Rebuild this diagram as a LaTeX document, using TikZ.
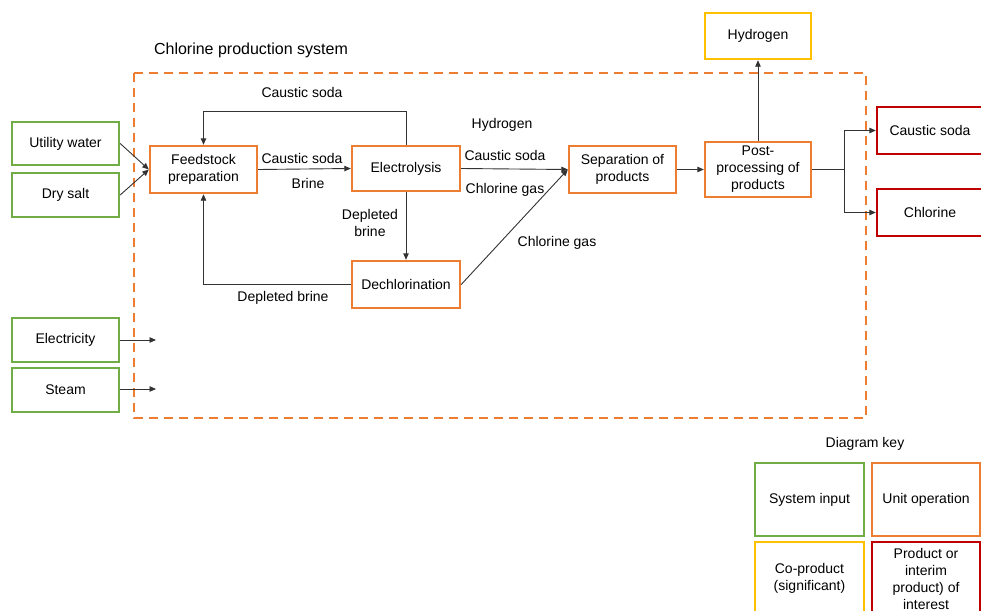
\documentclass[tikz,border=0pt]{standalone}
\usepackage{fontspec}
\setmainfont{Liberation Sans}
\usetikzlibrary{arrows.meta}
\definecolor{cgreen}{HTML}{70AD47}
\definecolor{corange}{HTML}{ED7D31}
\definecolor{cyellow}{HTML}{FFC000}
\definecolor{cred}{HTML}{C00000}
\definecolor{cline}{HTML}{333333}
\begin{document}
\begin{tikzpicture}[x=1pt,y=-1pt,
  every node/.style={font=\fontsize{14}{17}\selectfont, text=black},
  box/.style={draw, line width=2.4pt, inner sep=0pt, align=center},
  inbox/.style={box, draw=cgreen},
  opbox/.style={box, draw=corange},
  cobox/.style={box, draw=cyellow},
  prbox/.style={box, draw=cred},
  arr/.style={draw=cline, line width=0.9pt, -{Triangle[length=6.5pt,width=5.5pt]}},
  ln/.style={draw=cline, line width=0.9pt},
  dashbox/.style={draw=corange, line width=2.4pt, dash pattern=on 9pt off 6pt},
  lbl/.style={inner sep=0pt, align=center}
]
\clip (0,0) rectangle (981,610);
\fill[white] (0,0) rectangle (981,610);

% system boundary
\draw[dashbox] (134,73) rectangle (866,418);
\node[lbl, font=\fontsize{16}{19}\selectfont] (title) at (251,50) {Chlorine production system};

% inputs
\node[inbox, minimum width=107pt, minimum height=43pt] (uw) at (65.5,143.5) {Utility water};
\node[inbox, minimum width=107pt, minimum height=44pt] (ds) at (65.5,195) {Dry salt};
\node[inbox, minimum width=107pt, minimum height=44pt] (ec) at (65.5,340) {Electricity};
\node[inbox, minimum width=107pt, minimum height=44pt] (stm) at (65.5,390) {Steam};

% unit operations
\node[opbox, minimum width=107pt, minimum height=47pt] (fp) at (203.5,169.5) {Feedstock\\preparation};
\node[opbox, minimum width=108pt, minimum height=45pt] (el) at (406,168.5) {Electrolysis};
\node[opbox, minimum width=108pt, minimum height=47pt] (dc) at (406,284.5) {Dechlorination};
\node[opbox, minimum width=107pt, minimum height=47pt] (sp) at (622.5,169.5) {Separation of\\products};
\node[opbox, minimum width=106pt, minimum height=55pt] (pp) at (758,169.5) {Post-\\processing of\\products};

% outputs
\node[cobox, minimum width=106pt, minimum height=46pt] (hy) at (758,36) {Hydrogen};
\node[prbox, minimum width=106pt, minimum height=47pt] (cs) at (930,130.5) {Caustic soda};
\node[prbox, minimum width=106pt, minimum height=47pt] (cl) at (930,212.5) {Chlorine};

% connectors
\draw[arr] (uw.east) -- (fp.west);
\draw[arr] (ds.east) -- (fp.west);
\draw[arr] (fp.east) -- (el.west);
\coordinate (topc) at (203.5,111);
\draw[arr] (el.north) |- (topc) -- (fp.north);
\draw[arr] (el.south) -- (dc.north);
\draw[arr] (dc.west) -| (fp.south);
\draw[arr] (el.east) -- (sp.west);
\draw[arr] (dc.east) -- (sp.west);
\draw[arr] (sp.east) -- (pp.west);
\draw[arr] (pp.north) -- (hy.south);
\coordinate (br) at (844,169.5);
\draw[ln] (pp.east) -- (br);
\draw[arr] (br) |- (cs.west);
\draw[arr] (br) |- (cl.west);
\coordinate (ee) at (156,340);
\coordinate (se) at (156,389);
\draw[arr] (ec.east) -- (ee);
\draw[arr] (stm.east |- se) -- (se);

% labels
\node[lbl] (l1) at (302,92) {Caustic soda};
\node[lbl] (l2) at (302,158) {Caustic soda};
\node[lbl] (l3) at (308,183) {Brine};
\node[lbl] (l4) at (370,223) {Depleted\\brine};
\node[lbl] (l5) at (283,298) {Depleted brine};
\node[lbl] (l6) at (502,125) {Hydrogen};
\node[lbl] (l7) at (505,155) {Caustic soda};
\node[lbl] (l8) at (505,190) {Chlorine gas};
\node[lbl] (l9) at (557,243) {Chlorine gas};

% key
\node[lbl] (keyt) at (865,444) {Diagram key};
\node[inbox, minimum width=109pt, minimum height=73pt] (k1) at (809.5,499.5) {System input};
\node[opbox, minimum width=108pt, minimum height=73pt] (k2) at (926,499.5) {Unit operation};
\node[cobox, minimum width=109pt, minimum height=73pt] (k3) at (809.5,578.5) {Co-product\\(significant)};
\node[prbox, minimum width=108pt, minimum height=73pt] (k4) at (926,578.5) {Product or\\interim\\product) of\\interest};
\end{tikzpicture}
\end{document}
